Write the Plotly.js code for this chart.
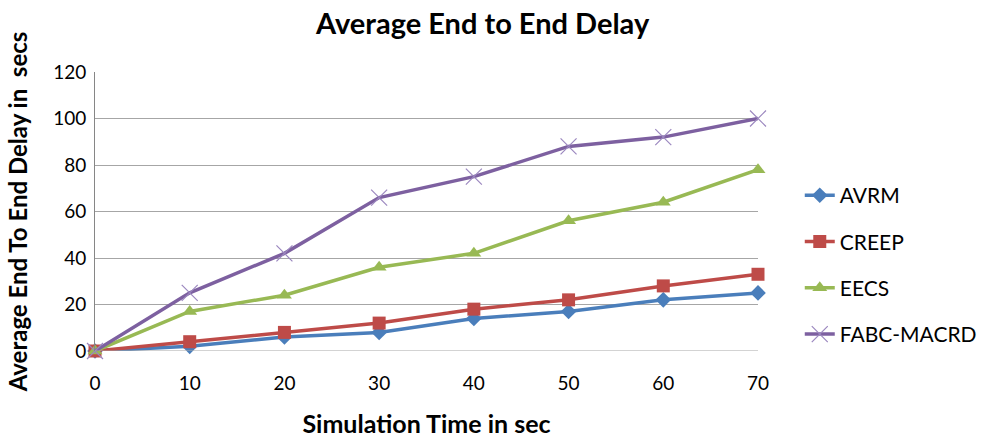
<!DOCTYPE html>
<html>
<head>
<meta charset="utf-8">
<script src="https://cdn.plot.ly/plotly-3.0.1.min.js"></script>
<style>html,body{margin:0;padding:0;background:#fff;}#chart{width:985px;height:438px;}</style>
</head>
<body>
<div id="chart"></div>
<script>
const simTime = [0, 10, 20, 30, 40, 50, 60, 70];
const avrm = [0, 2, 6, 8, 14, 17, 22, 25];
const creep = [0, 4, 8, 12, 18, 22, 28, 33];
const eecs = [0, 17, 24, 36, 42, 56, 64, 78];
const fabc = [0, 25, 42, 66, 75, 88, 92, 100];
const seriesNames = ["AVRM", "CREEP", "EECS", "FABC-MACRD"];
const yTicks = [0, 20, 40, 60, 80, 100, 120];

const FONT = "Lato, 'Open Sans', sans-serif";
const colors = ["#4a7ebb", "#be4b48", "#98b954", "#7d60a0"];
const symbols = ["diamond", "square", "triangle-up", "x-thin-open"];
const sizes = [12, 13, 13, 16];
const data = [avrm, creep, eecs, fabc].map((ys, i) => ({
  x: simTime, y: ys, name: seriesNames[i], type: "scatter", mode: "lines+markers",
  legendgroup: "g" + i,
  cliponaxis: false,
  line: {color: colors[i], width: 3.5},
  marker: {symbol: symbols[i], size: sizes[i], color: i === 3 ? "#9b87bf" : colors[i],
           line: {color: i === 3 ? "#9b87bf" : colors[i], width: i === 3 ? 1.2 : 0}}
}));

const layout = {
  width: 985, height: 438,
  margin: {l: 95, r: 227, t: 72, b: 87, autoexpand: false},
  paper_bgcolor: "#fff", plot_bgcolor: "#fff",
  font: {family: FONT, color: "#000"},
  title: {text: "<b>Average End to End Delay</b>", font: {size: 29, family: FONT}, x: 0.49, xanchor: "center", y: 0.945, yanchor: "middle"},
  xaxis: {
    range: [0, 70], tickvals: simTime, ticktext: simTime.map(String),
    showgrid: false, zeroline: false, showline: false,
    tickfont: {size: 19, family: FONT}, ticks: "", ticklabelstandoff: 19,
    title: {text: "<b>Simulation Time in sec</b>", font: {size: 25, family: FONT}, standoff: 25}
  },
  yaxis: {
    range: [0, 120], tickvals: yTicks, ticktext: yTicks.map(String),
    showgrid: true, gridcolor: "#a6a6a6", gridwidth: 1, zeroline: false,
    showline: true, linecolor: "#868686", linewidth: 1,
    tickfont: {size: 19, family: FONT}, ticks: "", ticklabelstandoff: 4,
    title: {text: "<b>Average End To End Delay in  secs</b>", font: {size: 24, family: FONT}, standoff: 18}
  },
  shapes: [{type: "line", xref: "paper", yref: "y", x0: 0, x1: 1, y0: 0, y1: 0, line: {color: "#a6a6a6", width: 1}}],
  legend: {x: 1.063, xanchor: "left", y: 0.308, yanchor: "middle", font: {size: 21, family: FONT},
           tracegroupgap: 16, itemwidth: 30, bgcolor: "rgba(0,0,0,0)"},
  showlegend: true
};
Plotly.newPlot("chart", data, layout, {displayModeBar: false, staticPlot: true});
</script>
</body>
</html>
